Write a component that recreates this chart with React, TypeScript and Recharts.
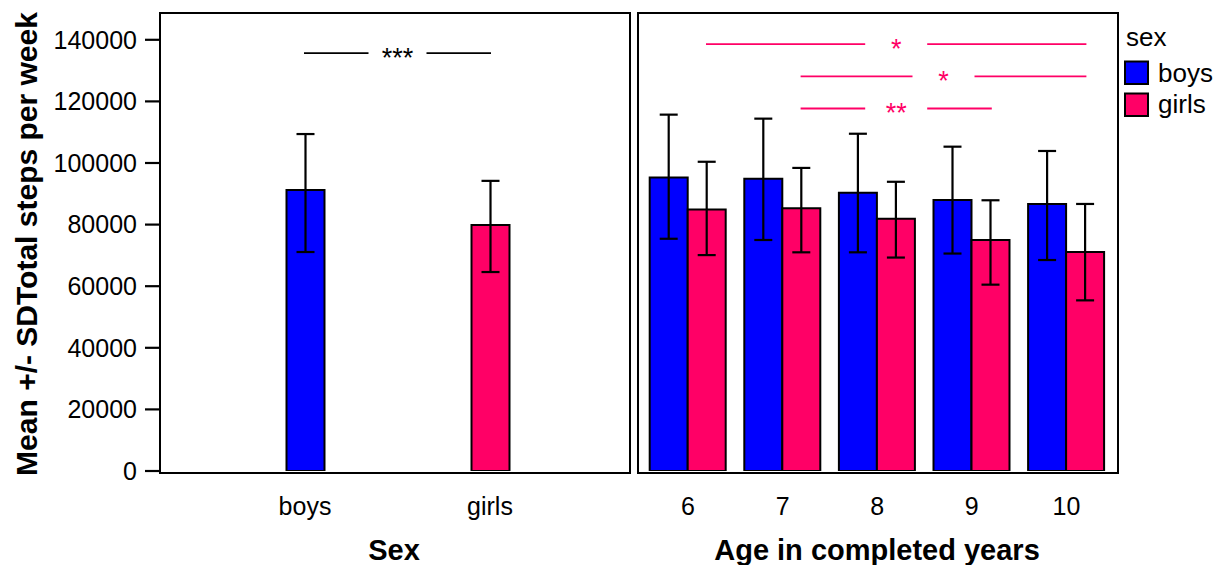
import { BarChart, Bar, XAxis, YAxis, ErrorBar, Cell, ReferenceLine, Label, Legend } from "recharts";

// --- data ---
const sexGroups = ["boys", "girls"];
const sexMeans = [91200, 79900];
const sexLow = [71100, 64600];
const sexHigh = [109400, 94200];

const ages = ["6", "7", "8", "9", "10"];
const boysMeans = [95300, 94900, 90300, 88000, 86700];
const boysLow = [75400, 75000, 71000, 70600, 68500];
const boysHigh = [115700, 114400, 109500, 105300, 103900];
const girlsMeans = [84900, 85300, 81900, 75000, 71100];
const girlsLow = [70100, 71000, 69300, 60500, 55400];
const girlsHigh = [100400, 98400, 93900, 87900, 86700];

const yTicks = [0, 20000, 40000, 60000, 80000, 100000, 120000, 140000];
const yMax = 148700;

// significance brackets
const sexSignif = [{ from: "boys", to: "girls", y: 135700, label: "***" }];
const ageSignif = [
  { from: "6", to: "10", y: 138600, label: "*" },
  { from: "7", to: "10", y: 128100, label: "*" },
  { from: "7", to: "9", y: 117700, label: "**" },
];

const COLORS: Record<string, string> = { boys: "#0000FF", girls: "#FF0066" };

const sexData = sexGroups.map((g, i) => ({
  group: g,
  mean: sexMeans[i],
  err: [sexMeans[i] - sexLow[i], sexHigh[i] - sexMeans[i]],
}));

const ageData = ages.map((a, i) => ({
  age: a,
  boys: boysMeans[i],
  boysErr: [boysMeans[i] - boysLow[i], boysHigh[i] - boysMeans[i]],
  girls: girlsMeans[i],
  girlsErr: [girlsMeans[i] - girlsLow[i], girlsHigh[i] - girlsMeans[i]],
}));

// --- layout ---
const FONT = "'Liberation Sans', Arial, Helvetica, sans-serif";
const H = 565;
const PLOT_TOP = 13;
const X_AXIS_H = 94;
const LEFT_W = 633;
const RIGHT_W = 588;
const Y_AXIS_W = 160;
const LEFT_MARGIN = { top: PLOT_TOP, right: 5, bottom: 0, left: 0 };
const RIGHT_MARGIN = { top: PLOT_TOP, right: 105, bottom: 0, left: 5 };
const LEFT_PAD = { left: 52.5, right: 45.5 };
const RIGHT_PAD = { left: 2.7, right: 2.3 };
const BAR = 38;

function bracket(label: string, color: string, shift: number, gap: number) {
  return (p: any) => {
    const x1 = p.x1 + shift;
    const x2 = p.x2 + shift;
    const y = p.y1;
    const mid = (x1 + x2) / 2;
    return (
      <g>
        <line x1={x1 - 1} y1={y} x2={mid - gap} y2={y} stroke={color} strokeWidth={1.8} />
        <line x1={mid + gap} y1={y} x2={x2 + 1} y2={y} stroke={color} strokeWidth={1.8} />
        <text x={mid} y={y + 14} textAnchor="middle" fill={color} fontSize={27} fontFamily={FONT}>
          {label}
        </text>
      </g>
    );
  };
}

const tickStyle = { fill: "#000", fontSize: 25, fontFamily: FONT };

function xTitle(text: string) {
  return (props: any) => {
    const vb = props.viewBox;
    return (
      <text x={vb.x + vb.width / 2} y={vb.y + 89} textAnchor="middle" fontSize={29} fontWeight="bold" fill="#000" fontFamily={FONT}>
        {text}
      </text>
    );
  };
}

function yTitle(props: any) {
  const vb = props.viewBox;
  const cx = vb.x + 37;
  const cy = vb.y + vb.height / 2 + 2;
  return (
    <text x={cx} y={cy} transform={`rotate(-90 ${cx} ${cy})`} textAnchor="middle" fontSize={30} fontWeight="bold" fill="#000" fontFamily={FONT}>
      Mean +/- SDTotal steps per week
    </text>
  );
}

function SexLegend() {
  const keys = ["boys", "girls"];
  return (
    <svg width={100} height={130} style={{ overflow: "visible" }}>
      <text x={8} y={46} fontSize={26} fill="#000" fontFamily={FONT}>sex</text>
      {keys.map((k, i) => (
        <g key={k}>
          <rect x={7} y={61.5 + i * 32} width={23} height={22.5} fill={COLORS[k]} stroke="#000" strokeWidth={2} />
          <text x={40} y={82 + i * 30.5} fontSize={26} fill="#000" fontFamily={FONT}>{k}</text>
        </g>
      ))}
    </svg>
  );
}

function Frame({ left, width }: { left: number; width: number }) {
  return (
    <div style={{
      position: "absolute", left: left - 1, top: PLOT_TOP - 1, width, height: H - PLOT_TOP - X_AXIS_H,
      border: "2px solid #000", pointerEvents: "none",
    }} />
  );
}

export default function App() {
  const leftPlotW = LEFT_W - Y_AXIS_W - LEFT_MARGIN.right;
  const rightPlotW = RIGHT_W - RIGHT_MARGIN.left - RIGHT_MARGIN.right;
  return (
    <div style={{ position: "absolute", left: 0, top: 0, width: LEFT_W + RIGHT_W, height: H, display: "flex", background: "#fff", fontFamily: FONT }}>
      <BarChart width={LEFT_W} height={H} data={sexData} margin={LEFT_MARGIN} barSize={BAR}>
        <XAxis dataKey="group" height={X_AXIS_H} axisLine={false} tickLine={{ stroke: "none" }}
          tickSize={0} tickMargin={26} padding={LEFT_PAD} tick={tickStyle} interval={0}>
          <Label content={xTitle("Sex")} />
        </XAxis>
        <YAxis domain={[0, yMax]} ticks={yTicks} width={Y_AXIS_W} axisLine={false} tickSize={15} tickMargin={8}
          tickLine={{ stroke: "#000", strokeWidth: 2.2 }} tick={tickStyle} allowDataOverflow interval={0}>
          <Label content={yTitle} />
        </YAxis>
        <Bar dataKey="mean" stroke="#000" strokeWidth={2} isAnimationActive={false}>
          {sexData.map((d) => (
            <Cell key={d.group} fill={COLORS[d.group]} />
          ))}
          <ErrorBar dataKey="err" width={9} stroke="#000" strokeWidth={2.2} direction="y" isAnimationActive={false} />
        </Bar>
        {sexSignif.map((s, i) => (
          <ReferenceLine key={"s" + i} ifOverflow="visible" segment={[{ x: s.from, y: s.y }, { x: s.to, y: s.y }]}
            shape={bracket(s.label, "#000", 0, 29)} />
        ))}
      </BarChart>

      <BarChart width={RIGHT_W} height={H} data={ageData} margin={RIGHT_MARGIN} barSize={BAR} barGap={0}>
        <XAxis dataKey="age" height={X_AXIS_H} axisLine={false} tickLine={{ stroke: "none" }}
          tickSize={0} tickMargin={26} padding={RIGHT_PAD} tick={tickStyle} interval={0}>
          <Label content={xTitle("Age in completed years")} />
        </XAxis>
        <YAxis domain={[0, yMax]} ticks={yTicks} hide allowDataOverflow />
        <Legend layout="vertical" align="center" verticalAlign="middle" content={() => <SexLegend />}
          wrapperStyle={{ left: 485, top: 0, width: 100, height: 130 }} />
        <Bar dataKey="boys" name="boys" fill={COLORS.boys} stroke="#000" strokeWidth={2} isAnimationActive={false}>
          <ErrorBar dataKey="boysErr" width={9} stroke="#000" strokeWidth={2.2} direction="y" isAnimationActive={false} />
        </Bar>
        <Bar dataKey="girls" name="girls" fill={COLORS.girls} stroke="#000" strokeWidth={2} isAnimationActive={false}>
          <ErrorBar dataKey="girlsErr" width={9} stroke="#000" strokeWidth={2.2} direction="y" isAnimationActive={false} />
        </Bar>
        {ageSignif.map((s, i) => (
          <ReferenceLine key={"a" + i} ifOverflow="visible" segment={[{ x: s.from, y: s.y }, { x: s.to, y: s.y }]}
            shape={bracket(s.label, COLORS.girls, BAR / 2, 31)} />
        ))}
      </BarChart>

      <Frame left={Y_AXIS_W} width={leftPlotW} />
      <Frame left={LEFT_W + RIGHT_MARGIN.left} width={rightPlotW} />
    </div>
  );
}
